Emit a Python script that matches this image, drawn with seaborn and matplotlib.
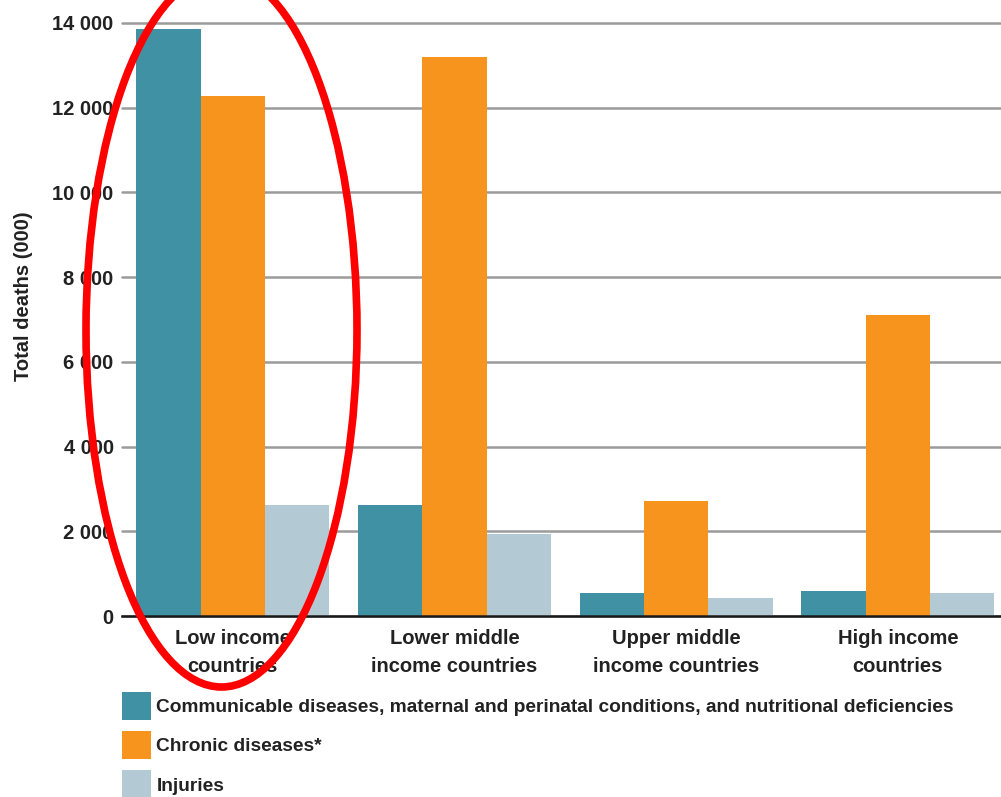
import matplotlib
matplotlib.use("Agg")
import matplotlib.pyplot as plt
from matplotlib.patches import Patch, Ellipse
from matplotlib.ticker import FuncFormatter
import seaborn as sns
import pandas as pd

# Income groups and projected deaths (thousands) for each cause group
groups = ["Low income\ncountries", "Lower middle\nincome countries",
          "Upper middle\nincome countries", "High income\ncountries"]
causes = ["Communicable diseases, maternal and perinatal conditions, and nutritional deficiencies",
          "Chronic diseases*", "Injuries"]
communicable = [13850, 2610, 535, 600]
chronic = [12280, 13200, 2720, 7110]
injuries = [2610, 1940, 425, 540]
colors = ["#4191A5", "#F7941E", "#B3C9D4"]

df = pd.DataFrame({
    "group": groups * 3,
    "cause": [causes[0]] * 4 + [causes[1]] * 4 + [causes[2]] * 4,
    "deaths": communicable + chronic + injuries,
})

sns.set_theme(style="white")
plt.rcParams["font.family"] = ["Liberation Sans", "DejaVu Sans"]
plt.rcParams["font.weight"] = "bold"
plt.rcParams["text.color"] = "#222222"

fig = plt.figure(figsize=(10.01, 7.97), dpi=100)
ax = fig.add_axes([122 / 1001, 1 - 616 / 797, 1 - 122 / 1001, (616 - 23) / 797])

ax.yaxis.grid(True, color="#9b9b9b", linewidth=1.8)
ax.set_axisbelow(True)

sns.barplot(data=df, x="group", y="deaths", hue="cause", hue_order=causes,
            palette=colors, saturation=1, width=0.87, gap=0, ax=ax,
            legend=False, linewidth=0)

ax.set_ylim(0, 14000)
ax.set_xlim(-0.5, 3.465)
ax.set_yticks(range(0, 14001, 2000))
ax.yaxis.set_major_formatter(FuncFormatter(lambda v, p: f"{int(v):,}".replace(",", " ")))
ax.tick_params(axis="y", length=0, pad=6, labelsize=14.5, labelcolor="#222222")
ax.tick_params(axis="x", length=0, pad=9, labelsize=14.5, labelcolor="#222222")
for lbl in ax.get_xticklabels():
    lbl.set_linespacing(1.6)
    lbl.set_fontweight("bold")
for lbl in ax.get_yticklabels():
    lbl.set_fontweight("bold")
for line in ax.get_ygridlines():
    line.set_clip_on(False)

for side in ["left", "top", "right"]:
    ax.spines[side].set_visible(False)
ax.spines["bottom"].set_color("#1a1a1a")
ax.spines["bottom"].set_linewidth(1.8)

ax.set_xlabel("")
ax.set_ylabel("Total deaths (000)", fontsize=14.5, color="#222222", fontweight="bold")
ax.yaxis.set_label_coords(-(122 - 33) / 879, (616 - 296) / 593)

handles = [Patch(facecolor=c, edgecolor="none") for c in colors]
fig.legend(handles, causes, loc="upper left", bbox_to_anchor=(122 / 1001, 1 - 692 / 797),
           frameon=False, prop={"size": 13.8, "weight": "bold"},
           handlelength=1.5, handleheight=1.85, handletextpad=0.3,
           labelspacing=0.6, borderaxespad=0, borderpad=0)

# Red ring highlighting the low income group
ring = Ellipse((221.5 / 1001, 1 - 330 / 797), 271 / 1001, 714 / 797,
               transform=fig.transFigure, fill=False, edgecolor="#FF0000",
               linewidth=5.5, zorder=10)
fig.add_artist(ring)

fig.savefig("out.png", dpi=100)
